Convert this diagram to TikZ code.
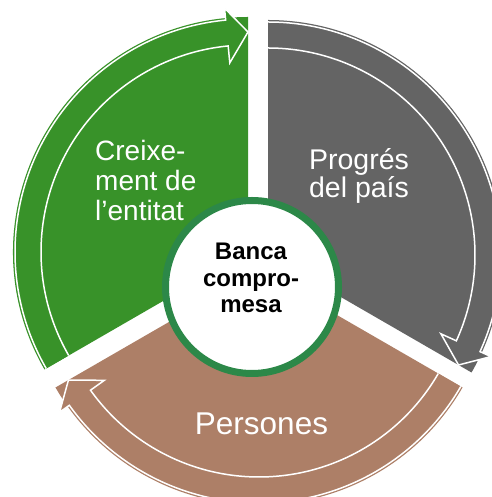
\documentclass[tikz,border=0pt]{standalone}
\usepackage{fontspec}
\setmainfont{Liberation Sans}
\definecolor{creix}{RGB}{56,146,41}
\definecolor{progres}{RGB}{100,100,100}
\definecolor{persona}{RGB}{173,127,103}
\definecolor{ring}{RGB}{44,136,72}
\begin{document}
\begin{tikzpicture}[x=1pt, y=1pt]
\tikzstyle{segtext} = [text=white, inner sep=0pt]
\useasboundingbox (0,0) rectangle (491,497);
% three pieces of the cycle: apex x/y, start angle, end angle, colour
\foreach \px/\py/\s/\e/\col in {248/245/210/90/creix, 268/242/90/-30/progres, 259/227/330/210/persona}{
  \pgfmathsetmacro{\h}{\e+5.5}
  \begin{scope}[shift={(\px,\py)}]
  \fill[\col] (0,0) -- (\s:235pt) arc[start angle=\s, end angle=\e, radius=235pt] -- cycle;
  \fill[\col] (\s:233pt) arc[start angle=\s, end angle=\h, radius=233pt] -- (\h:245pt) -- (\e:220pt)
    -- (\h:190pt) -- (\h:207pt) arc[start angle=\h, end angle=\s, radius=207pt] -- cycle;
  \draw[white, line width=1.5pt, line join=miter] (\s:233pt) arc[start angle=\s, end angle=\h, radius=233pt]
    -- (\h:245pt) -- (\e:220pt) -- (\h:190pt) -- (\h:207pt) arc[start angle=\h, end angle=\s, radius=207pt];
  \end{scope}
}
\node[circle, draw=ring, line width=7pt, fill=white, minimum size=173pt] (core) at (252,210) {};
\node[inner sep=0pt, align=center, font=\bfseries\fontsize{24}{26.5}\selectfont] (corelabel) at (251,219) {Banca\\compro-\\mesa};
\node[segtext, anchor=north west, align=left, font=\fontsize{28}{30}\selectfont] (entitat) at (95,357) {Creixe-\\ment de\\l’entitat};
\node[segtext, anchor=north, align=center, font=\fontsize{28.5}{28}\selectfont] (pais) at (359,349) {Progrés\\del país};
\node[segtext, anchor=base, font=\fontsize{31.5}{34}\selectfont] (persones) at (261.5,62) {Persones};
\end{tikzpicture}
\end{document}
